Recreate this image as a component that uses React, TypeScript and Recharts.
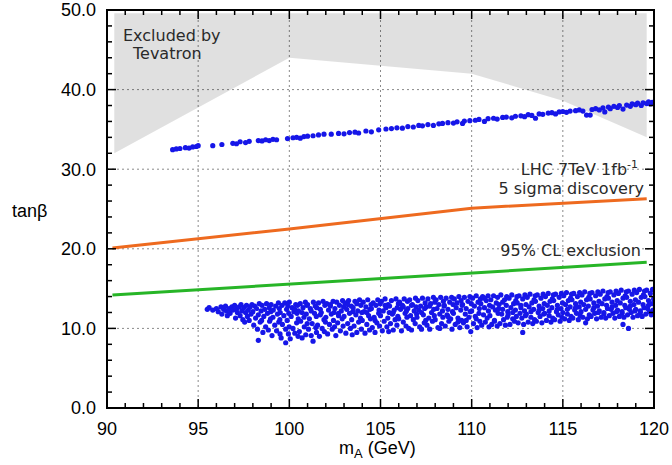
import React from "react";
import {
  ComposedChart,
  Scatter,
  Line,
  Area,
  XAxis,
  YAxis,
  CartesianGrid,
} from "recharts";

// axis ticks
const xMajor = [90, 95, 100, 105, 110, 115, 120];
const xMinor = [
  90, 91, 92, 93, 94, 95, 96, 97, 98, 99, 100, 101, 102, 103, 104, 105, 106,
  107, 108, 109, 110, 111, 112, 113, 114, 115, 116, 117, 118, 119, 120,
];
const yMajor = [0, 10, 20, 30, 40, 50];
const yMinor = [
  0, 2, 4, 6, 8, 10, 12, 14, 16, 18, 20, 22, 24, 26, 28, 30, 32, 34, 36, 38,
  40, 42, 44, 46, 48, 50,
];

// Tevatron excluded region (lower edge, upper edge)
const tevX = [90.4, 100, 110, 115, 119.6];
const tevLow = [32, 44, 42, 38.6, 34];
const tevHigh = [49.6, 49.6, 49.6, 49.6, 49.6];

// LHC 7TeV 1fb-1 curves
const discX = [90.3, 100, 110, 119.6];
const discY = [20.1, 22.5, 25.1, 26.3];
const exclX = [90.3, 119.6];
const exclY = [14.2, 18.3];

// upper scan points (large tanβ branch)
const upperPts: [number, number][] = [
  [93.6, 32.45], [93.8, 32.55], [94.0, 32.6], [94.3, 32.7], [94.5, 32.65], [94.7, 32.8],
  [94.9, 32.85], [95.0, 32.95], [95.8, 32.95], [96.3, 33.1], [96.9, 33.25], [97.1, 33.2],
  [97.3, 33.45], [97.6, 33.35], [97.8, 33.5], [98.3, 33.6], [98.5, 33.55], [98.7, 33.7],
  [98.9, 33.6], [99.1, 33.75], [99.3, 33.7], [99.9, 33.85], [100.2, 33.95], [100.4, 34.0],
  [100.6, 33.9], [100.8, 34.1], [101.0, 34.15], [101.3, 34.2], [101.6, 34.3], [101.9, 34.4],
  [102.3, 34.4], [102.7, 34.5], [103.0, 34.45], [103.3, 34.6], [103.6, 34.65], [103.8, 34.55],
  [104.2, 34.8], [104.5, 34.7], [104.9, 34.95], [105.3, 35.05], [105.6, 35.1], [105.9, 35.2],
  [106.2, 35.15], [106.5, 35.35], [106.8, 35.3], [107.1, 35.5], [107.3, 35.45], [107.6, 35.6],
  [107.9, 35.5], [108.2, 35.7], [108.4, 35.75], [108.7, 35.85], [109.0, 35.8], [109.2, 35.95],
  [109.5, 35.75], [109.6, 36.05], [109.9, 36.1], [110.2, 36.15], [110.4, 36.25], [110.7, 36.0],
  [110.9, 36.35], [111.2, 36.4], [111.4, 36.3], [111.7, 36.5], [111.9, 36.55], [112.2, 36.45],
  [112.4, 36.65], [112.7, 36.7], [112.9, 36.6], [113.1, 36.85], [113.3, 36.75], [113.5, 36.4],
  [113.7, 36.95], [113.9, 36.9], [114.2, 37.05], [114.4, 37.1], [114.6, 36.95], [114.8, 37.2],
  [115.0, 37.25], [115.2, 37.15], [115.4, 37.3], [115.7, 37.35], [115.9, 37.45], [116.1, 37.3],
  [116.3, 36.8], [116.5, 36.8], [116.6, 37.5], [116.8, 37.6], [117.0, 37.45], [117.2, 37.7],
  [117.3, 37.2], [117.5, 37.8], [117.6, 37.6], [117.8, 37.9], [118.0, 37.75], [118.1, 38.0],
  [118.3, 37.55], [118.5, 38.05], [118.7, 37.9], [118.8, 38.2], [119.0, 38.1], [119.1, 38.3],
  [119.3, 38.0], [119.4, 38.35], [119.6, 38.25], [119.7, 38.45], [119.8, 38.2], [119.9, 38.4],
];

// lower scan points (small tanβ branch)
const lowerPts: [number, number][] = [
  [95.5, 12.4], [95.6, 12.6], [95.8, 12.3],
  [96.0, 12.5], [96.1, 12.1], [96.25, 12.7], [96.3, 11.8], [96.4, 12.4],
  [96.5, 12.8], [96.55, 12.2], [96.6, 11.6], [96.7, 12.5], [96.75, 11.9], [96.85, 12.7], [96.9, 12.3],
  [97.0, 12.9], [97.05, 11.3], [97.1, 12.4], [97.15, 12.0], [97.25, 12.7], [97.3, 11.6], [97.35, 13.0], [97.4, 12.2], [97.45, 11.1],
  [97.5, 12.6], [97.55, 10.8], [97.6, 12.0], [97.65, 12.9], [97.7, 11.5], [97.75, 12.3], [97.8, 11.0], [97.85, 12.7], [97.9, 11.8], [97.95, 13.0],
  [98.0, 12.1], [98.05, 10.4], [98.1, 12.8], [98.15, 11.3], [98.2, 12.5], [98.25, 9.9], [98.3, 8.5], [98.3, 11.7], [98.35, 13.1], [98.4, 10.8], [98.45, 12.2], [98.48, 11.0],
  [98.5, 12.9], [98.55, 9.5], [98.6, 11.5], [98.65, 12.4], [98.7, 10.2], [98.75, 13.1], [98.8, 11.9], [98.85, 9.8], [98.9, 12.6], [98.92, 10.9], [98.97, 11.2], [98.98, 12.1],
  [99.0, 13.0], [99.05, 9.1], [99.1, 11.4], [99.12, 12.3], [99.2, 10.4], [99.25, 12.8], [99.3, 9.7], [99.35, 11.8], [99.4, 13.2], [99.42, 10.8], [99.45, 12.5], [99.48, 11.1], [99.49, 9.3],
  [99.5, 12.0], [99.55, 8.8], [99.6, 12.9], [99.62, 10.5], [99.7, 11.6], [99.75, 13.2], [99.8, 8.2], [99.8, 9.9], [99.85, 12.4], [99.88, 11.0], [99.92, 12.8], [99.95, 9.3], [99.97, 11.9], [99.99, 10.2],
  [100.0, 13.3], [100.05, 8.7], [100.1, 11.5], [100.15, 12.6], [100.2, 10.0], [100.25, 12.1], [100.3, 9.4], [100.35, 13.0], [100.4, 10.7], [100.42, 11.9], [100.45, 12.9], [100.48, 9.0], [100.49, 11.2], [100.3, 12.4],
  [100.5, 12.2], [100.55, 9.6], [100.6, 13.1], [100.62, 10.9], [100.7, 8.8], [100.75, 12.6], [100.8, 11.4], [100.82, 10.2], [100.88, 13.3], [100.9, 9.2], [100.93, 11.8], [100.96, 12.9], [100.98, 10.6], [100.7, 12.0],
  [101.0, 13.0], [101.05, 9.9], [101.1, 11.2], [101.15, 12.5], [101.2, 9.1], [101.25, 10.6], [101.3, 8.4], [101.32, 13.3], [101.38, 11.9], [101.42, 12.8], [101.45, 10.1], [101.48, 11.5], [101.49, 9.5], [101.2, 12.2],
  [101.5, 12.6], [101.55, 10.4], [101.6, 13.2], [101.65, 9.0], [101.7, 11.7], [101.75, 12.0], [101.8, 10.0], [101.85, 13.4], [101.9, 11.1], [101.92, 9.6], [101.95, 12.9], [101.98, 10.8], [101.7, 12.4],
  [102.0, 11.4], [102.05, 13.1], [102.1, 9.3], [102.15, 12.3], [102.2, 10.5], [102.25, 12.8], [102.3, 11.8], [102.35, 9.9], [102.4, 13.4], [102.42, 11.0], [102.45, 12.0], [102.48, 10.2], [102.25, 13.0],
  [102.5, 12.5], [102.55, 9.1], [102.6, 13.3], [102.65, 10.7], [102.7, 11.6], [102.75, 12.9], [102.8, 9.7], [102.85, 12.2], [102.9, 11.2], [102.92, 13.5], [102.95, 10.3], [102.98, 12.7], [102.7, 11.9],
  [103.0, 11.5], [103.05, 13.2], [103.1, 9.4], [103.15, 12.4], [103.2, 10.6], [103.25, 13.5], [103.3, 11.9], [103.35, 10.0], [103.4, 12.8], [103.42, 11.1], [103.45, 9.2], [103.48, 12.1], [103.2, 13.0],
  [103.5, 12.6], [103.55, 10.3], [103.6, 13.4], [103.65, 11.7], [103.7, 9.5], [103.75, 12.2], [103.8, 10.8], [103.85, 13.6], [103.9, 11.3], [103.92, 12.9], [103.95, 9.9], [103.98, 12.0], [103.7, 13.1],
  [104.0, 11.0], [104.05, 13.3], [104.1, 12.1], [104.15, 9.4], [104.2, 12.7], [104.25, 10.5], [104.3, 13.6], [104.35, 11.6], [104.4, 9.8], [104.42, 12.4], [104.45, 11.2], [104.48, 13.0], [104.25, 12.0],
  [104.5, 12.5], [104.55, 10.1], [104.6, 13.2], [104.65, 11.4], [104.7, 9.5], [104.75, 12.9], [104.8, 10.7], [104.85, 13.6], [104.9, 11.9], [104.92, 12.3], [104.95, 10.3], [104.98, 13.1], [104.7, 11.0],
  [105.0, 11.6], [105.05, 13.4], [105.1, 9.7], [105.15, 12.2], [105.2, 10.9], [105.25, 13.7], [105.3, 12.6], [105.35, 10.2], [105.4, 11.3], [105.42, 13.0], [105.45, 9.6], [105.48, 12.0], [105.25, 12.9],
  [105.5, 12.8], [105.55, 10.6], [105.6, 13.5], [105.65, 11.8], [105.7, 9.8], [105.75, 12.3], [105.8, 11.1], [105.85, 13.7], [105.9, 10.4], [105.92, 12.6], [105.95, 11.5], [105.98, 13.1], [105.7, 12.0],
  [106.0, 11.2], [106.05, 13.3], [106.1, 12.4], [106.15, 9.7], [106.2, 12.9], [106.25, 10.8], [106.3, 13.7], [106.35, 11.9], [106.4, 10.3], [106.42, 12.2], [106.45, 11.4], [106.48, 13.4], [106.25, 12.7],
  [106.5, 12.5], [106.55, 10.0], [106.6, 13.6], [106.65, 11.6], [106.7, 9.8], [106.75, 13.0], [106.8, 11.1], [106.85, 12.2], [106.9, 10.6], [106.92, 13.8], [106.95, 12.7], [106.98, 11.8], [106.7, 12.9],
  [107.0, 11.4], [107.05, 13.5], [107.1, 12.3], [107.15, 10.2], [107.2, 12.8], [107.25, 9.9], [107.3, 13.8], [107.35, 11.7], [107.4, 10.7], [107.42, 12.5], [107.45, 13.2], [107.48, 11.0], [107.25, 12.0],
  [107.5, 12.7], [107.55, 10.4], [107.6, 13.7], [107.65, 11.3], [107.7, 9.9], [107.75, 13.1], [107.8, 12.0], [107.85, 10.9], [107.9, 13.9], [107.92, 12.4], [107.95, 11.6], [107.98, 13.3], [107.7, 12.8],
  [108.0, 11.1], [108.05, 13.6], [108.1, 12.5], [108.15, 10.1], [108.2, 13.0], [108.25, 11.8], [108.3, 13.9], [108.35, 10.6], [108.4, 12.2], [108.42, 11.4], [108.45, 13.4], [108.48, 12.8], [108.25, 10.0],
  [108.5, 12.9], [108.55, 10.3], [108.6, 13.8], [108.65, 11.7], [108.7, 12.4], [108.75, 10.9], [108.8, 13.3], [108.85, 11.2], [108.9, 13.9], [108.92, 9.9], [108.95, 12.1], [108.98, 13.0], [108.7, 11.5],
  [109.0, 11.9], [109.05, 13.7], [109.1, 10.5], [109.15, 12.6], [109.2, 13.2], [109.25, 11.3], [109.3, 14.0], [109.35, 10.1], [109.4, 12.3], [109.42, 13.5], [109.45, 11.0], [109.48, 12.9], [109.25, 10.8],
  [109.5, 13.0], [109.55, 10.7], [109.6, 13.9], [109.65, 11.8], [109.7, 12.5], [109.75, 10.2], [109.8, 13.4], [109.85, 11.4], [109.9, 14.0], [109.92, 12.1], [109.95, 9.6], [109.98, 13.1], [109.7, 11.0],
  [110.0, 12.2], [110.05, 13.8], [110.1, 10.6], [110.15, 12.8], [110.2, 11.5], [110.25, 14.1], [110.3, 10.1], [110.35, 13.3], [110.4, 11.9], [110.42, 12.5], [110.45, 10.9], [110.48, 13.7], [110.25, 11.2],
  [110.5, 13.1], [110.55, 10.4], [110.6, 14.0], [110.65, 11.7], [110.7, 12.6], [110.75, 10.8], [110.8, 13.5], [110.85, 11.3], [110.9, 14.1], [110.92, 12.2], [110.95, 10.2], [110.98, 12.9], [110.7, 13.8],
  [111.0, 11.6], [111.05, 13.6], [111.1, 10.5], [111.15, 12.7], [111.2, 14.1], [111.25, 11.0], [111.3, 12.3], [111.35, 13.2], [111.4, 10.3], [111.42, 13.9], [111.45, 11.9], [111.48, 12.5], [111.25, 10.9],
  [111.5, 13.0], [111.55, 10.6], [111.6, 14.2], [111.65, 11.8], [111.7, 12.4], [111.75, 11.1], [111.8, 13.6], [111.85, 10.4], [111.9, 12.9], [111.92, 14.0], [111.95, 11.4], [111.98, 12.1], [111.7, 13.3],
  [112.0, 11.7], [112.05, 13.8], [112.1, 10.5], [112.15, 12.6], [112.2, 14.2], [112.25, 11.2], [112.3, 13.1], [112.35, 10.9], [112.4, 12.3], [112.42, 13.5], [112.45, 11.5], [112.48, 14.0], [112.25, 12.0],
  [112.5, 13.2], [112.55, 10.7], [112.6, 14.1], [112.65, 11.9], [112.7, 12.6], [112.75, 11.3], [112.8, 9.5], [112.8, 13.7], [112.85, 10.5], [112.9, 12.2], [112.92, 14.2], [112.95, 11.6], [112.98, 13.0], [112.7, 12.9],
  [113.0, 11.8], [113.05, 13.9], [113.1, 10.8], [113.15, 12.7], [113.2, 14.3], [113.25, 11.4], [113.3, 13.2], [113.35, 10.6], [113.4, 12.4], [113.42, 13.6], [113.45, 11.1], [113.48, 14.1], [113.25, 12.1],
  [113.5, 13.4], [113.55, 10.9], [113.6, 14.2], [113.65, 12.0], [113.7, 12.8], [113.75, 11.5], [113.8, 13.8], [113.85, 10.7], [113.9, 12.5], [113.92, 14.3], [113.95, 11.8], [113.98, 13.1], [113.7, 12.3],
  [114.0, 11.9], [114.05, 14.0], [114.1, 11.0], [114.15, 12.9], [114.2, 14.4], [114.25, 11.6], [114.3, 13.4], [114.35, 10.8], [114.4, 12.6], [114.42, 13.7], [114.45, 11.3], [114.48, 14.2], [114.25, 12.2],
  [114.5, 13.5], [114.55, 11.1], [114.6, 14.3], [114.65, 12.1], [114.7, 12.9], [114.75, 11.7], [114.8, 13.9], [114.85, 10.9], [114.9, 12.5], [114.92, 14.4], [114.95, 11.4], [114.98, 13.2], [114.7, 12.4],
  [115.0, 12.0], [115.05, 14.1], [115.1, 11.2], [115.15, 13.0], [115.2, 14.5], [115.25, 11.8], [115.3, 13.5], [115.35, 11.0], [115.4, 12.7], [115.42, 13.8], [115.45, 11.5], [115.48, 14.3], [115.25, 12.4],
  [115.5, 13.6], [115.55, 11.3], [115.6, 14.4], [115.65, 12.3], [115.7, 13.1], [115.75, 11.9], [115.8, 14.0], [115.85, 11.1], [115.9, 12.7], [115.92, 14.5], [115.95, 11.6], [115.98, 13.3], [115.7, 12.6],
  [116.0, 12.1], [116.05, 14.2], [116.1, 11.4], [116.15, 13.0], [116.2, 14.6], [116.25, 10.7], [116.3, 13.6], [116.35, 11.2], [116.4, 12.8], [116.42, 13.9], [116.45, 11.7], [116.48, 14.4], [116.25, 12.4],
  [116.5, 13.7], [116.55, 11.5], [116.6, 14.5], [116.65, 12.3], [116.7, 13.2], [116.75, 11.9], [116.8, 14.1], [116.85, 11.2], [116.9, 12.8], [116.92, 14.6], [116.95, 12.0], [116.98, 13.4], [116.7, 12.6],
  [117.0, 12.2], [117.05, 14.3], [117.1, 11.4], [117.15, 13.1], [117.2, 14.7], [117.25, 11.8], [117.3, 13.7], [117.35, 11.3], [117.4, 12.9], [117.42, 14.0], [117.45, 12.5], [117.48, 14.5], [117.25, 12.0],
  [117.5, 13.8], [117.55, 11.6], [117.6, 14.6], [117.65, 12.4], [117.7, 13.3], [117.75, 11.9], [117.8, 14.2], [117.85, 11.3], [117.9, 12.9], [117.92, 14.7], [117.95, 12.1], [117.98, 13.5], [117.7, 12.7],
  [118.0, 12.3], [118.05, 14.4], [118.1, 11.5], [118.15, 13.2], [118.2, 14.8], [118.25, 11.9], [118.3, 10.5], [118.3, 13.8], [118.35, 11.4], [118.4, 12.9], [118.42, 14.1], [118.45, 12.6], [118.48, 14.6], [118.25, 12.1],
  [118.5, 13.9], [118.55, 11.7], [118.6, 10.0], [118.6, 14.7], [118.65, 12.4], [118.7, 13.4], [118.75, 12.0], [118.8, 14.3], [118.85, 11.4], [118.9, 13.0], [118.92, 14.8], [118.95, 12.2], [118.98, 13.6], [118.7, 12.8],
  [119.0, 12.4], [119.05, 14.5], [119.1, 11.6], [119.15, 13.3], [119.2, 14.9], [119.25, 12.0], [119.3, 13.9], [119.35, 11.5], [119.4, 13.0], [119.42, 14.2], [119.45, 12.6], [119.48, 14.7], [119.25, 12.2],
  [119.5, 14.0], [119.55, 11.8], [119.6, 14.8], [119.65, 12.5], [119.7, 13.5], [119.75, 12.1], [119.8, 14.4], [119.85, 11.7], [119.9, 13.1], [119.92, 14.9], [119.95, 12.3], [119.98, 13.7], [119.7, 12.9],
];

const tevData = tevX.map((x, i) => ({ x, y: [tevLow[i], tevHigh[i]] }));
const discData = discX.map((x, i) => ({ x, y: discY[i] }));
const exclData = exclX.map((x, i) => ({ x, y: exclY[i] }));
const upperData = upperPts.map(([x, y]) => ({ x, y }));
const lowerData = lowerPts.map(([x, y]) => ({ x, y }));

// chart box: margins + axis sizes give the plot frame
const W = 672;
const H = 465;
const MARGIN = { top: 10, right: 18, bottom: 0, left: 0 };
const Y_AXIS_W = 107;
const X_AXIS_H = 57;
const L = MARGIN.left + Y_AXIS_W;
const R = W - MARGIN.right;
const T = MARGIN.top;
const B = H - MARGIN.bottom - X_AXIS_H;
const px = (v: number) => L + ((v - 90) / 30) * (R - L);
const py = (v: number) => B - (v / 50) * (B - T);

const DOT = "#1616e8";
const renderDot = (p: any) => <circle cx={p.cx} cy={p.cy} r={2.6} fill={DOT} />;

const tickFont = { fontFamily: "Liberation Sans, Arial, sans-serif", fontSize: 18, fill: "#000" };
const noteFont = { fontFamily: "DejaVu Sans, sans-serif", fontSize: 16, fill: "#2a2a2a" };
const frame = { stroke: "#000", strokeWidth: 2 };
const layer = { position: "absolute" as const, left: 0, top: 0 };

export default function App() {
  return (
    <div style={{ ...layer, width: W, height: H, background: "#fff" }}>
      <div style={layer}>
        <ComposedChart width={W} height={H} margin={MARGIN}>
          <CartesianGrid
            stroke="#8a8a8a"
            strokeDasharray="2 3"
            strokeWidth={1}
            verticalValues={xMajor}
            horizontalValues={yMajor}
          />
          <XAxis
            dataKey="x"
            type="number"
            domain={[90, 120]}
            ticks={xMajor}
            allowDataOverflow
            height={X_AXIS_H}
            tickSize={0}
            tickMargin={14}
            tick={tickFont}
            axisLine={frame}
            tickLine={false}
            interval={0}
          />
          <YAxis
            type="number"
            domain={[0, 50]}
            ticks={yMajor}
            allowDataOverflow
            width={Y_AXIS_W}
            tickSize={0}
            tickMargin={11}
            tick={tickFont}
            tickFormatter={(v: number) => v.toFixed(1)}
            axisLine={frame}
            tickLine={false}
            interval={0}
          />
          <Area data={tevData} dataKey="y" type="linear" stroke="none" fill="#000" fillOpacity={0.12} isAnimationActive={false} />
          <Line data={discData} dataKey="y" type="linear" stroke="#ee6a1f" strokeWidth={3} dot={false} isAnimationActive={false} />
          <Line data={exclData} dataKey="y" type="linear" stroke="#27b527" strokeWidth={3} dot={false} isAnimationActive={false} />
          <Scatter data={upperData} dataKey="y" shape={renderDot} isAnimationActive={false} />
          <Scatter data={lowerData} dataKey="y" shape={renderDot} isAnimationActive={false} />
        </ComposedChart>
      </div>

      <svg width={W} height={H} style={{ ...layer, pointerEvents: "none" }}>
        {/* plot frame with inward ticks on all sides */}
        <rect x={L} y={T} width={R - L} height={B - T} fill="none" stroke="#000" strokeWidth={2} />
        {xMinor.map((v) => {
          const len = xMajor.includes(v) ? 9 : 5;
          return (
            <g key={"x" + v} stroke="#000" strokeWidth={1.5}>
              <line x1={px(v)} x2={px(v)} y1={B} y2={B - len} />
              <line x1={px(v)} x2={px(v)} y1={T} y2={T + len} />
            </g>
          );
        })}
        {yMinor.map((v) => {
          const len = yMajor.includes(v) ? 9 : 5;
          return (
            <g key={"y" + v} stroke="#000" strokeWidth={1.5}>
              <line x1={L} x2={L + len} y1={py(v)} y2={py(v)} />
              <line x1={R} x2={R - len} y1={py(v)} y2={py(v)} />
            </g>
          );
        })}

        <text x={123} y={41} {...noteFont}>Excluded by</text>
        <text x={133} y={59} {...noteFont}>Tevatron</text>
        <text x={638} y={175} textAnchor="end" {...noteFont}>
          LHC 7TeV 1fb<tspan dy={-7} fontSize={11}>-1</tspan>
        </text>
        <text x={644} y={194} textAnchor="end" {...noteFont}>5 sigma discovery</text>
        <text x={641} y={256} textAnchor="end" {...noteFont}>95% CL exclusion</text>
        <text x={12} y={217} {...tickFont}>tanβ</text>
        <text x={339} y={454} {...tickFont}>
          m<tspan dy={4} fontSize={13}>A</tspan>
          <tspan dy={-4}> (GeV)</tspan>
        </text>
      </svg>
    </div>
  );
}
